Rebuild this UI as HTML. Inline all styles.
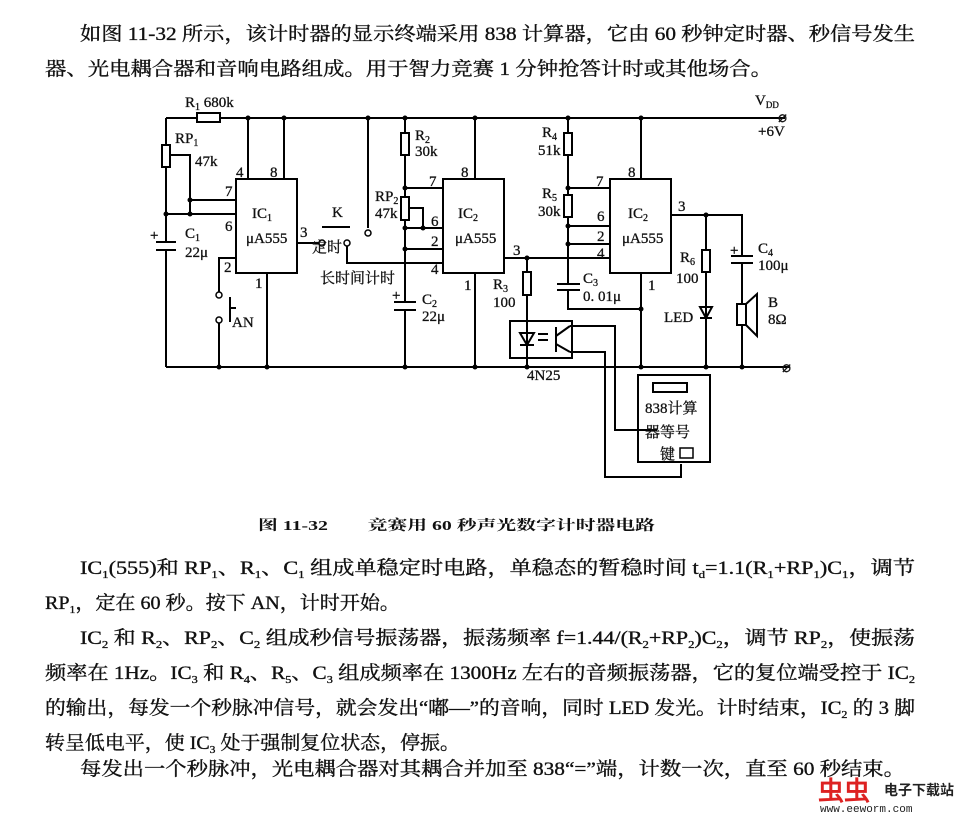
<!DOCTYPE html>
<html><head><meta charset="utf-8"><style>
html,body{margin:0;padding:0;background:#fff}
svg{display:block}
.t{font-family:"Liberation Serif","Noto Serif CJK SC",serif;font-size:19px;fill:#111;stroke:#111;stroke-width:0.35}
.s{font-family:"Liberation Serif","Noto Serif CJK SC",serif;font-size:15px;fill:#111;stroke:#111;stroke-width:0.3}
.b{font-family:"Liberation Serif","Noto Serif CJK SC",serif;font-size:14px;font-weight:bold;fill:#111}
</style></head><body>
<svg width="960" height="815" viewBox="0 0 960 815" xmlns="http://www.w3.org/2000/svg">
<g class="t">
<text x="80" y="40" textLength="835" lengthAdjust="spacingAndGlyphs">如图 11-32 所示，该计时器的显示终端采用 838 计算器，它由 60 秒钟定时器、秒信号发生</text>
<text x="45" y="75" textLength="727" lengthAdjust="spacingAndGlyphs">器、光电耦合器和音响电路组成。用于智力竞赛 1 分钟抢答计时或其他场合。</text>
<text x="80" y="574" textLength="835" lengthAdjust="spacingAndGlyphs">IC<tspan font-size="11" dy="4">1</tspan><tspan dy="-4">(555)和 RP</tspan><tspan font-size="11" dy="4">1</tspan><tspan dy="-4">、R</tspan><tspan font-size="11" dy="4">1</tspan><tspan dy="-4">、C</tspan><tspan font-size="11" dy="4">1</tspan><tspan dy="-4"> 组成单稳定时电路，单稳态的暂稳时间 t</tspan><tspan font-size="11" dy="4">d</tspan><tspan dy="-4">=1.1(R</tspan><tspan font-size="11" dy="4">1</tspan><tspan dy="-4">+RP</tspan><tspan font-size="11" dy="4">1</tspan><tspan dy="-4">)C</tspan><tspan font-size="11" dy="4">1</tspan><tspan dy="-4">，调节</tspan></text>
<text x="45" y="609" textLength="355" lengthAdjust="spacingAndGlyphs">RP<tspan font-size="11" dy="4">1</tspan><tspan dy="-4">，定在 60 秒。按下 AN，计时开始。</tspan></text>
<text x="80" y="644" textLength="835" lengthAdjust="spacingAndGlyphs">IC<tspan font-size="11" dy="4">2</tspan><tspan dy="-4"> 和 R</tspan><tspan font-size="11" dy="4">2</tspan><tspan dy="-4">、RP</tspan><tspan font-size="11" dy="4">2</tspan><tspan dy="-4">、C</tspan><tspan font-size="11" dy="4">2</tspan><tspan dy="-4"> 组成秒信号振荡器，振荡频率 f=1.44/(R</tspan><tspan font-size="11" dy="4">2</tspan><tspan dy="-4">+RP</tspan><tspan font-size="11" dy="4">2</tspan><tspan dy="-4">)C</tspan><tspan font-size="11" dy="4">2</tspan><tspan dy="-4">，调节 RP</tspan><tspan font-size="11" dy="4">2</tspan><tspan dy="-4">，使振荡</tspan></text>
<text x="45" y="679" textLength="870" lengthAdjust="spacingAndGlyphs">频率在 1Hz。IC<tspan font-size="11" dy="4">3</tspan><tspan dy="-4"> 和 R</tspan><tspan font-size="11" dy="4">4</tspan><tspan dy="-4">、R</tspan><tspan font-size="11" dy="4">5</tspan><tspan dy="-4">、C</tspan><tspan font-size="11" dy="4">3</tspan><tspan dy="-4"> 组成频率在 1300Hz 左右的音频振荡器，它的复位端受控于 IC</tspan><tspan font-size="11" dy="4">2</tspan></text>
<text x="45" y="714" textLength="870" lengthAdjust="spacingAndGlyphs">的输出，每发一个秒脉冲信号，就会发出“嘟—”的音响，同时 LED 发光。计时结束，IC<tspan font-size="11" dy="4">2</tspan><tspan dy="-4"> 的 3 脚</tspan></text>
<text x="45" y="749" textLength="415" lengthAdjust="spacingAndGlyphs">转呈低电平，使 IC<tspan font-size="11" dy="4">3</tspan><tspan dy="-4"> 处于强制复位状态，停振。</tspan></text>
<text x="80" y="775" textLength="825" lengthAdjust="spacingAndGlyphs">每发出一个秒脉冲，光电耦合器对其耦合并加至 838“=”端，计数一次，直至 60 秒结束。</text>
</g>
<text class="b" x="258" y="530" textLength="397" lengthAdjust="spacingAndGlyphs">图 11-32　　竞赛用 60 秒声光数字计时器电路</text>
<text x="818" y="800" font-family="Liberation Sans,sans-serif" font-size="26" font-weight="bold" fill="#d22">虫虫</text>
<text x="884" y="795" font-family="Liberation Sans,'Noto Sans CJK SC',sans-serif" font-size="14" font-weight="bold" fill="#222">电子下载站</text>
<text x="820" y="812" font-family="Liberation Mono,monospace" font-size="11" fill="#222">www.eeworm.com</text>

<g stroke="#000" stroke-width="2" fill="none">
<path d="M166 118 H197 M220 118 H785"/>
<rect x="197" y="113" width="23" height="9"/>
<path d="M166 367 H790"/>
<path d="M166 118 V145 M166 167 V242 M166 251 V367"/>
<rect x="162" y="145" width="8" height="22"/>
<path d="M171 155 H190 V214 M190 200 H236 M166 214 H236"/>
<path d="M156 242 H176 M156 250 H176" />
<rect x="236" y="179" width="61" height="94"/>
<path d="M248 118 V179 M284 118 V179 M236 258 H219 V292 M219 323 V367 M267 273 V367"/>
<path d="M230 297 V322 M230 308 H236"/>
<path d="M297 243 H320"/>
<path d="M322 227 H350"/>
<path d="M347 246 V263 H443"/>
<path d="M368 118 V228"/>
<path d="M405 118 V133 M405 155 V197 M405 220 V302 M405 310 V367"/>
<rect x="401" y="133" width="8" height="22"/>
<rect x="401" y="197" width="8" height="23"/>
<path d="M410 208 H423 V228 M405 188 H443 M405 228 H443 M405 249 H443"/>
<path d="M394 302 H416 M394 310 H416"/>
<rect x="443" y="179" width="61" height="94"/>
<path d="M475 118 V179 M475 273 V367"/>
<path d="M504 258 H610"/>
<path d="M527 258 V272 M527 295 V367"/>
<rect x="523" y="272" width="8" height="23"/>
<rect x="510" y="321" width="62" height="37"/>
<path d="M520 333 H534 L527 345 Z M520 345 H534"/>
<path d="M538 334 H548 M538 340 H548"/>
<path d="M556 327 V352 M556 336 L570 326 M556 344 L570 352"/>
<path d="M570 326 H615 V430 H657 M570 352 H605 V477 H681 V464"/>
<path d="M568 118 V133 M568 155 V195 M568 217 V284 M568 290 V309 H641"/>
<rect x="564" y="133" width="8" height="22"/>
<rect x="564" y="195" width="8" height="22"/>
<path d="M557 284 H580 M557 290 H580"/>
<path d="M568 188 H610 M568 226 H610 M568 244 H610"/>
<rect x="610" y="179" width="61" height="94"/>
<path d="M641 118 V179 M641 273 V367"/>
<path d="M671 215 H742 V255 M742 263 V303 M742 325 V367"/>
<path d="M706 215 V250 M706 272 V367"/>
<rect x="702" y="250" width="8" height="22"/>
<path d="M700 307 H712 L706 318 Z M700 318 H712"/>
<path d="M731 256 H753 M731 263 H753"/>
<rect x="737" y="304" width="9" height="21"/>
<path d="M746 304 L757 294 V336 L746 325"/>
<rect x="638" y="375" width="72" height="87"/>
<rect x="653" y="383" width="34" height="9"/>
<rect x="680" y="448" width="13" height="10" stroke-width="1.5"/>
</g>
<g fill="#000">
<circle cx="248" cy="118" r="2.5"/><circle cx="284" cy="118" r="2.5"/><circle cx="368" cy="118" r="2.5"/><circle cx="405" cy="118" r="2.5"/><circle cx="475" cy="118" r="2.5"/><circle cx="568" cy="118" r="2.5"/><circle cx="641" cy="118" r="2.5"/>
<circle cx="190" cy="200" r="2.5"/><circle cx="190" cy="214" r="2.5"/><circle cx="166" cy="214" r="2.5"/>
<circle cx="405" cy="188" r="2.5"/><circle cx="405" cy="228" r="2.5"/><circle cx="423" cy="228" r="2.5"/><circle cx="405" cy="249" r="2.5"/>
<circle cx="527" cy="258" r="2.5"/><circle cx="568" cy="188" r="2.5"/><circle cx="568" cy="226" r="2.5"/><circle cx="568" cy="244" r="2.5"/>
<circle cx="641" cy="309" r="2.5"/><circle cx="706" cy="215" r="2.5"/>
<circle cx="219" cy="367" r="2.5"/><circle cx="267" cy="367" r="2.5"/><circle cx="405" cy="367" r="2.5"/><circle cx="475" cy="367" r="2.5"/><circle cx="527" cy="367" r="2.5"/><circle cx="641" cy="367" r="2.5"/><circle cx="706" cy="367" r="2.5"/><circle cx="742" cy="367" r="2.5"/>
</g>
<g fill="#fff" stroke="#000" stroke-width="1.5">
<circle cx="322" cy="243" r="3"/><circle cx="347" cy="243" r="3"/><circle cx="368" cy="233" r="3"/>
<circle cx="219" cy="295" r="3"/><circle cx="219" cy="320" r="3"/>
</g>
<g class="s">
<text x="185" y="107">R<tspan font-size="10" dy="3">1</tspan><tspan dy="-3"> 680k</tspan></text>
<text x="175" y="143">RP<tspan font-size="10" dy="3">1</tspan></text><text x="195" y="166">47k</text>
<text x="185" y="238">C<tspan font-size="10" dy="3">1</tspan></text><text x="185" y="257">22μ</text>
<text x="150" y="240">+</text>
<text x="236" y="177">4</text><text x="270" y="177">8</text><text x="225" y="196">7</text><text x="225" y="231">6</text><text x="224" y="272">2</text><text x="255" y="288">1</text><text x="300" y="237">3</text>
<text x="252" y="218">IC<tspan font-size="10" dy="3">1</tspan></text><text x="246" y="243">μA555</text>
<text x="232" y="327">AN</text>
<text x="332" y="217">K</text><text x="312" y="252">定时</text><text x="320" y="283">长时间计时</text>
<text x="415" y="140">R<tspan font-size="10" dy="3">2</tspan></text><text x="415" y="156">30k</text>
<text x="375" y="201">RP<tspan font-size="10" dy="3">2</tspan></text><text x="375" y="218">47k</text>
<text x="429" y="186">7</text><text x="431" y="226">6</text><text x="431" y="246">2</text><text x="431" y="274">4</text><text x="461" y="177">8</text><text x="464" y="290">1</text><text x="513" y="255">3</text>
<text x="458" y="218">IC<tspan font-size="10" dy="3">2</tspan></text><text x="455" y="243">μA555</text>
<text x="392" y="300">+</text><text x="422" y="304">C<tspan font-size="10" dy="3">2</tspan></text><text x="422" y="321">22μ</text>
<text x="493" y="289">R<tspan font-size="10" dy="3">3</tspan></text><text x="493" y="307">100</text>
<text x="527" y="380">4N25</text>
<text x="542" y="137">R<tspan font-size="10" dy="3">4</tspan></text><text x="538" y="155">51k</text>
<text x="542" y="198">R<tspan font-size="10" dy="3">5</tspan></text><text x="538" y="216">30k</text>
<text x="596" y="186">7</text><text x="597" y="221">6</text><text x="597" y="241">2</text><text x="597" y="258">4</text><text x="628" y="177">8</text><text x="648" y="290">1</text><text x="678" y="211">3</text>
<text x="628" y="218">IC<tspan font-size="10" dy="3">2</tspan></text><text x="622" y="243">μA555</text>
<text x="583" y="283">C<tspan font-size="10" dy="3">3</tspan></text><text x="583" y="301">0. 01μ</text>
<text x="680" y="262">R<tspan font-size="10" dy="3">6</tspan></text><text x="676" y="283">100</text>
<text x="664" y="322">LED</text>
<text x="730" y="255">+</text><text x="758" y="253">C<tspan font-size="10" dy="3">4</tspan></text><text x="758" y="270">100μ</text>
<text x="768" y="307">B</text><text x="768" y="324">8Ω</text>
<text x="755" y="105">V<tspan font-size="9" dy="3">DD</tspan></text><text x="758" y="136">+6V</text>
<text x="778" y="122">⌀</text><text x="782" y="372">⌀</text>
<text x="645" y="413">838计算</text><text x="645" y="437">器等号</text><text x="660" y="459">键</text>
</g>
</svg>
</body></html>
